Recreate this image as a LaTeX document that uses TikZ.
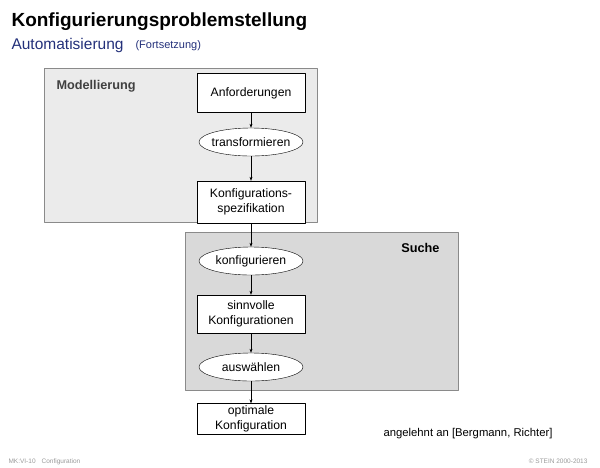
\documentclass[tikz,border=0pt]{standalone}
\usepackage{fontspec}
\setmainfont{Liberation Sans}
\usetikzlibrary{shapes.geometric,arrows.meta}
\definecolor{titleblue}{HTML}{23307A}
\definecolor{framegray}{HTML}{8A8A8A}
\definecolor{lightfill}{HTML}{EBEBEB}
\definecolor{darkfill}{HTML}{D9D9D9}
\tikzset{
  stepbox/.style={draw, fill=white, minimum width=108pt, align=center, inner sep=2pt, font=\fontsize{12.2}{15.5}\selectfont},
  action/.style={draw, fill=white, ellipse, minimum width=104pt, minimum height=28pt, inner xsep=-5pt, inner ysep=0pt, font=\fontsize{12.2}{15}\selectfont},
  area/.style={draw=framegray, line width=0.8pt},
  flow/.style={-{Stealth[length=4pt,width=3pt]}, line width=0.5pt}
}
\begin{document}
\begin{tikzpicture}[x=1pt, y=-1pt, line join=round]
				\useasboundingbox (0,0) rectangle (600,467);
				\path
				(251,93) coordinate (A)
				(251,142) coordinate (T)
				(251,202) coordinate (K)
				(251,261) coordinate (S)
				(251,314) coordinate (V)
				(251,367) coordinate (W)
				(251,419) coordinate (O)
				;
				% Rahmen
				\draw[area, fill=lightfill] (44,68) rectangle (317,222);
				\draw[area, fill=darkfill] (185,232) rectangle (458,390);
				\node[anchor=base west, font=\fontsize{12.7}{15}\selectfont\bfseries, text=black!75] (modell) at (53,89) {Modellierung};
				\node[anchor=base east, font=\fontsize{12.7}{15}\selectfont\bfseries] (suche) at (443,252) {Suche};
				% Knoten
				\node[stepbox, minimum height=39pt] (anf) at (A) {Anforderungen};
				\node[action] (trans) at (T) {transformieren};
				\node[stepbox, minimum height=42pt] (spez) at (K) {Konfigurations-\\spezifikation};
				\node[action] (konf) at (S) {konfigurieren};
				\node[stepbox, minimum height=38pt] (sinn) at (V) {sinnvolle\\Konfigurationen};
				\node[action] (ausw) at (W) {auswählen};
				\node[stepbox, minimum height=29pt] (opt) at (O) {optimale\\Konfiguration};
				\foreach \a/\b in {anf/trans,trans/spez,spez/konf,konf/sinn,sinn/ausw,ausw/opt}
				\draw[flow] (\a) -- (\b);
				% Texte
				\node[anchor=base west, font=\fontsize{19}{21}\selectfont\bfseries] (titel) at (8,26) {Konfigurierungsproblemstellung};
				\node[anchor=base west, font=\fontsize{15.5}{17}\selectfont, text=titleblue] (untertitel) at (8,49) {Automatisierung};
				\node[anchor=base west, font=\fontsize{11}{13}\selectfont, text=titleblue] (fort) at (132,48) {(Fortsetzung)};
				\node[anchor=base west, font=\fontsize{11.3}{13}\selectfont] (quelle) at (380,436) {angelehnt an [Bergmann, Richter]};
				\node[anchor=base west, font=\fontsize{6.5}{8}\selectfont, text=black!40] (fuss) at (5,463) {MK:VI-10\hspace{6pt}Configuration};
				\node[anchor=base east, font=\fontsize{6.5}{8}\selectfont, text=black!40] (copy) at (591,463) {© STEIN 2000-2013};
			\end{tikzpicture}
\end{document}
